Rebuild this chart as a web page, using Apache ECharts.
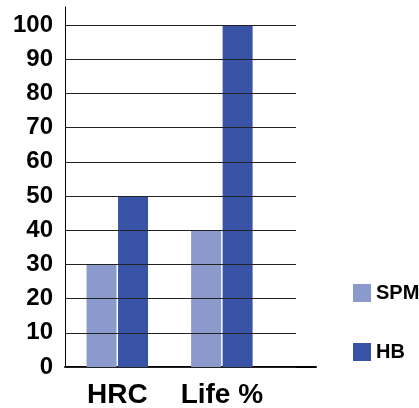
<!DOCTYPE html>
<html>
<head>
<meta charset="utf-8">
<script src="https://cdn.jsdelivr.net/npm/echarts@6/dist/echarts.min.js"></script>
<style>
  html, body { margin: 0; padding: 0; background: #fff; }
  #chart { width: 419px; height: 408px; }
</style>
</head>
<body>
<div id="chart"></div>
<script>
const categories = ["HRC", "Life %"];
const seriesNames = ["SPM", "HB"];
const spmValues = [30, 40];
const hbValues = [50, 100];
const yTicks = [0, 100, 10]; // min, max, step

const font = "Liberation Sans, Arial, sans-serif";
const chart = echarts.init(document.getElementById("chart"), null, { renderer: "canvas" });

// bars sit on a value x axis (category i at i + 0.5) so the groups line up like the original
const toPoints = (vals) => vals.map((v, i) => [i + 0.5, v]);

const option = {
  animation: false,
  textStyle: { fontFamily: font },
  grid: [
    // main grid: axis lines, labels, bars
    { left: 65, right: 103, top: 7, bottom: 41, outerBoundsMode: "none" },
    // split lines only (shorter than the axes)
    { left: 65, right: 123, top: 25, bottom: 41, outerBoundsMode: "none" },
  ],
  legend: {
    orient: "vertical",
    left: 348,
    top: 278,
    itemWidth: 18,
    itemHeight: 18,
    itemGap: 39,
    icon: "rect",
    data: seriesNames,
    textStyle: {
      fontSize: 20,
      fontWeight: "bold",
      color: "#000",
      fontFamily: font,
    },
  },
  xAxis: [
    {
      gridIndex: 0,
      type: "value",
      min: 0,
      max: 2.4,
      interval: 0.5,
      splitLine: { show: false },
      axisTick: { show: false },
      axisLine: { show: true, onZero: false, lineStyle: { color: "#000", width: 2 } },
      axisLabel: {
        margin: 14,
        fontSize: 28,
        fontWeight: "bold",
        color: "#000",
        fontFamily: font,
        showMinLabel: false,
        showMaxLabel: false,
        formatter: (v) => {
          const i = Math.round(v - 0.5);
          return Math.abs(v - 0.5 - i) < 1e-6 && categories[i] ? categories[i] : "";
        },
      },
    },
    { gridIndex: 1, type: "value", min: 0, max: 1, show: false },
  ],
  yAxis: [
    {
      gridIndex: 0,
      type: "value",
      min: 0,
      max: 105.26,
      interval: 10,
      splitLine: { show: false },
      axisTick: { show: false },
      axisLine: { show: true, onZero: false, lineStyle: { color: "#000", width: 1 } },
      axisLabel: {
        margin: 12,
        fontSize: 24,
        fontWeight: "bold",
        color: "#000",
        fontFamily: font,
        showMaxLabel: false,
      },
    },
    {
      gridIndex: 1,
      type: "value",
      min: yTicks[0],
      max: yTicks[1],
      interval: yTicks[2],
      z: 10,
      axisLine: { show: false },
      axisTick: { show: false },
      axisLabel: { show: false },
      splitLine: { show: true, lineStyle: { color: "#222", width: 1 } },
    },
  ],
  series: [
    {
      name: seriesNames[0],
      type: "bar",
      xAxisIndex: 0,
      yAxisIndex: 0,
      barWidth: 30,
      barGap: "5%",
      itemStyle: { color: "#8a9acb" },
      data: toPoints(spmValues),
    },
    {
      name: seriesNames[1],
      type: "bar",
      xAxisIndex: 0,
      yAxisIndex: 0,
      barWidth: 30,
      barGap: "5%",
      itemStyle: { color: "#3853a5" },
      data: toPoints(hbValues),
    },
  ],
};

chart.setOption(option);
</script>
</body>
</html>
